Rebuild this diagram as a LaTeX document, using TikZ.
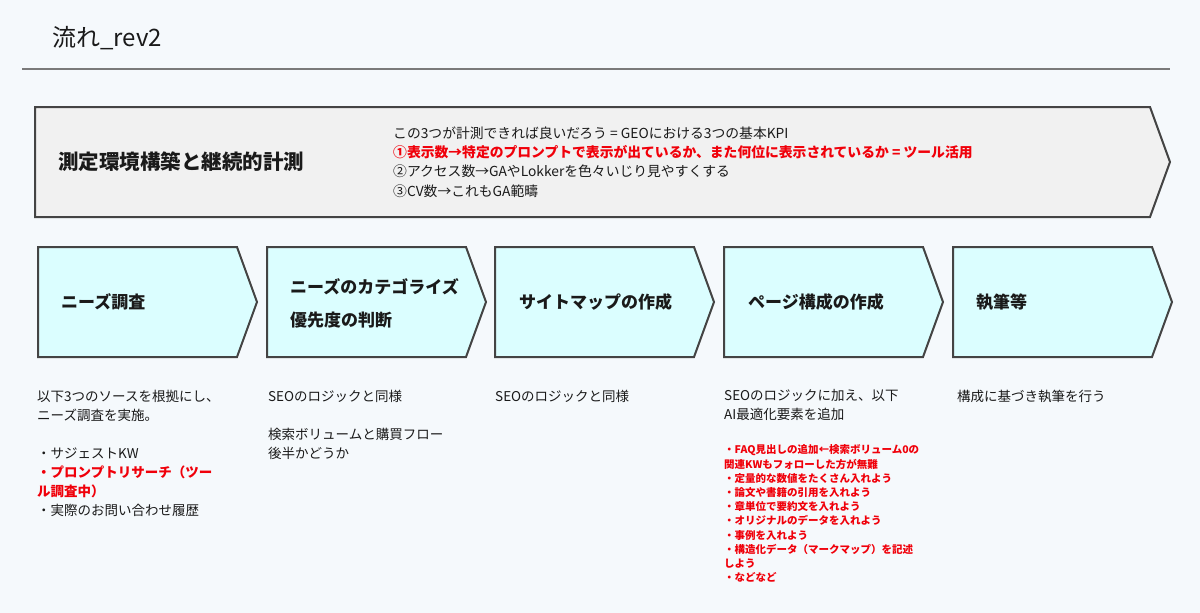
\documentclass[tikz,border=0pt]{standalone}
\usepackage{fontspec}
\setmainfont{Noto Sans CJK JP}
\definecolor{bg}{HTML}{F5F9FC}
\definecolor{edge}{HTML}{444444}
\definecolor{bannerfill}{HTML}{F1F1F1}
\definecolor{stepfill}{HTML}{DBFEFF}
\definecolor{kred}{HTML}{F0000A}
\definecolor{rule}{HTML}{7A7A7A}
\definecolor{ink}{HTML}{1A1A1A}
\begin{document}
\begin{tikzpicture}[x=1pt,y=-1pt,
  shapeline/.style={draw=edge, line width=2pt, line join=miter},
  bannershape/.style={shapeline, fill=bannerfill},
  stepshape/.style={shapeline, fill=stepfill},
  head/.style={font=\fontsize{17}{33}\selectfont\bfseries, anchor=west, inner sep=0, align=left, text=ink},
  body/.style={font=\fontsize{13.5}{19}\selectfont, anchor=north west, inner sep=0, align=left, text=ink},
  redlist/.style={font=\fontsize{10.5}{14.2}\selectfont\bfseries, anchor=north west, inner sep=0, align=left, text=kred},
]
\fill[bg] (0,0) rectangle (1200,613);
\useasboundingbox (0,0) rectangle (1200,613);

% title
\node[anchor=west, inner sep=0, font=\fontsize{24}{28}\selectfont, text=ink] (title) at (52,38) {流れ\_rev2};
\draw[rule, line width=1.5pt] (22,69) -- (1170,69);

% banner
\draw[bannershape] (35,107) -- (1150,107) -- (1170,162) -- (1150,217) -- (35,217) -- cycle;
\node[anchor=west, inner sep=0, font=\fontsize{20.5}{24}\selectfont\bfseries, text=ink] (measure) at (58,162) {測定環境構築と継続的計測};
\node[anchor=north west, inner sep=0, align=left, font=\fontsize{13.8}{19.4}\selectfont, text=ink] (kpi) at (393,126.3)
 {この3つが計測できれば良いだろう = GEOにおける3つの基本KPI\\
  \textcolor{kred}{\bfseries ①表示数→特定のプロンプトで表示が出ているか、また何位に表示されているか = ツール活用}\\
  ②アクセス数→GAやLokkerを色々いじり見やすくする\\
  ③CV数→これもGA範疇};

% steps
\foreach \L in {38,267,495,724,953}{
  \draw[stepshape] (\L,247) -- (\L+199,247) -- (\L+219,302) -- (\L+199,357) -- (\L,357) -- cycle;
}
\node[head] (s1) at (61,302) {ニーズ調査};
\node[head] (s2) at (290,303.5) {ニーズのカテゴライズ\\優先度の判断};
\node[head] (s3) at (519,302) {サイトマップの作成};
\node[head] (s4) at (748,302) {ページ構成の作成};
\node[head] (s5) at (976,302) {執筆等};

% descriptions
\node[body] (d1) at (37,389.5)
 {以下3つのソースを根拠にし、\\
  ニーズ調査を実施。\\[19pt]
  ・サジェストKW\\
  \textcolor{kred}{\bfseries ・プロンプトリサーチ（ツー}\\
  \textcolor{kred}{\bfseries ル調査中）}\\
  ・実際のお問い合わせ履歴};
\node[body] (d2) at (268,389.5)
 {SEOのロジックと同様\\[19pt]
  検索ボリュームと購買フロー\\
  後半かどうか};
\node[body] (d3) at (495,389.5) {SEOのロジックと同様};
\node[body] (d4) at (724,389.5)
 {SEOのロジックに加え、以下\\
  AI最適化要素を追加};
\node[redlist] (d4list) at (724,444.8)
 {・FAQ見出しの追加←検索ボリューム0の\\
  関連KWもフォローした方が無難\\
  ・定量的な数値をたくさん入れよう\\
  ・論文や書籍の引用を入れよう\\
  ・章単位で要約文を入れよう\\
  ・オリジナルのデータを入れよう\\
  ・事例を入れよう\\
  ・構造化データ（マークマップ）を記述\\
  しよう\\
  ・などなど};
\node[body] (d5) at (957,389.5) {構成に基づき執筆を行う};
\end{tikzpicture}
\end{document}
